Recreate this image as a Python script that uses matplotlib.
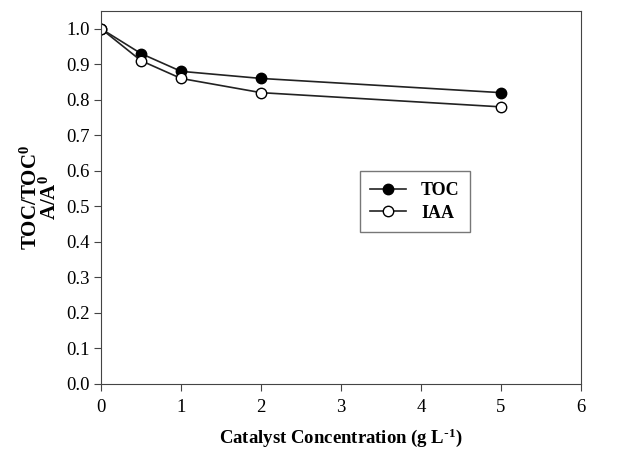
import matplotlib
matplotlib.use('Agg')
import matplotlib.pyplot as plt

conc = [0, 0.5, 1, 2, 5]
toc = [1.0, 0.93, 0.88, 0.86, 0.82]
iaa = [1.0, 0.91, 0.86, 0.82, 0.78]

plt.rcParams['font.family'] = 'Liberation Serif'
plt.rcParams['mathtext.default'] = 'regular'

fig = plt.figure(figsize=(6.37, 4.5), dpi=100)
ax = fig.add_axes([0.1586, 0.1467, 0.7535, 0.829])

ax.plot(conc, toc, '-o', color='#222222', mfc='black', mec='black', ms=7.5, lw=1.2, label='TOC')
ax.plot(conc, iaa, '-o', color='#222222', mfc='white', mec='black', ms=7.5, lw=1.2, label='IAA')

ax.set_xlim(0, 6)
ax.set_ylim(0, 1.05)
ax.set_xticks(range(0, 7))
ax.set_yticks([i / 10 for i in range(11)])
ax.set_yticklabels(['%.1f' % (i / 10) for i in range(11)])
ax.tick_params(direction='out', labelsize=13.5, length=5, color='#444444')
ax.tick_params(axis='x', pad=6)
ax.tick_params(axis='y', pad=3)
for s in ax.spines.values():
    s.set_color('#444444')

ax.set_xlabel('Catalyst Concentration (g L$^{\\text{-}1}$)', fontsize=13.5, fontweight='bold', labelpad=7)
ax.set_ylabel('TOC/TOC$^0$\nA/A$^0$', fontsize=15, fontweight='bold', labelpad=4, linespacing=0.85)

# legend box sits right of centre, just under mid-height
leg = ax.legend(loc='center', bbox_to_anchor=(0.654, 0.488), frameon=True, fancybox=False,
                edgecolor='#555555', prop={'weight': 'bold', 'size': 13}, handlelength=2.0,
                borderpad=0.6, labelspacing=0.3)
leg.get_frame().set_linewidth(1)

fig.savefig('out.png', dpi=100)
